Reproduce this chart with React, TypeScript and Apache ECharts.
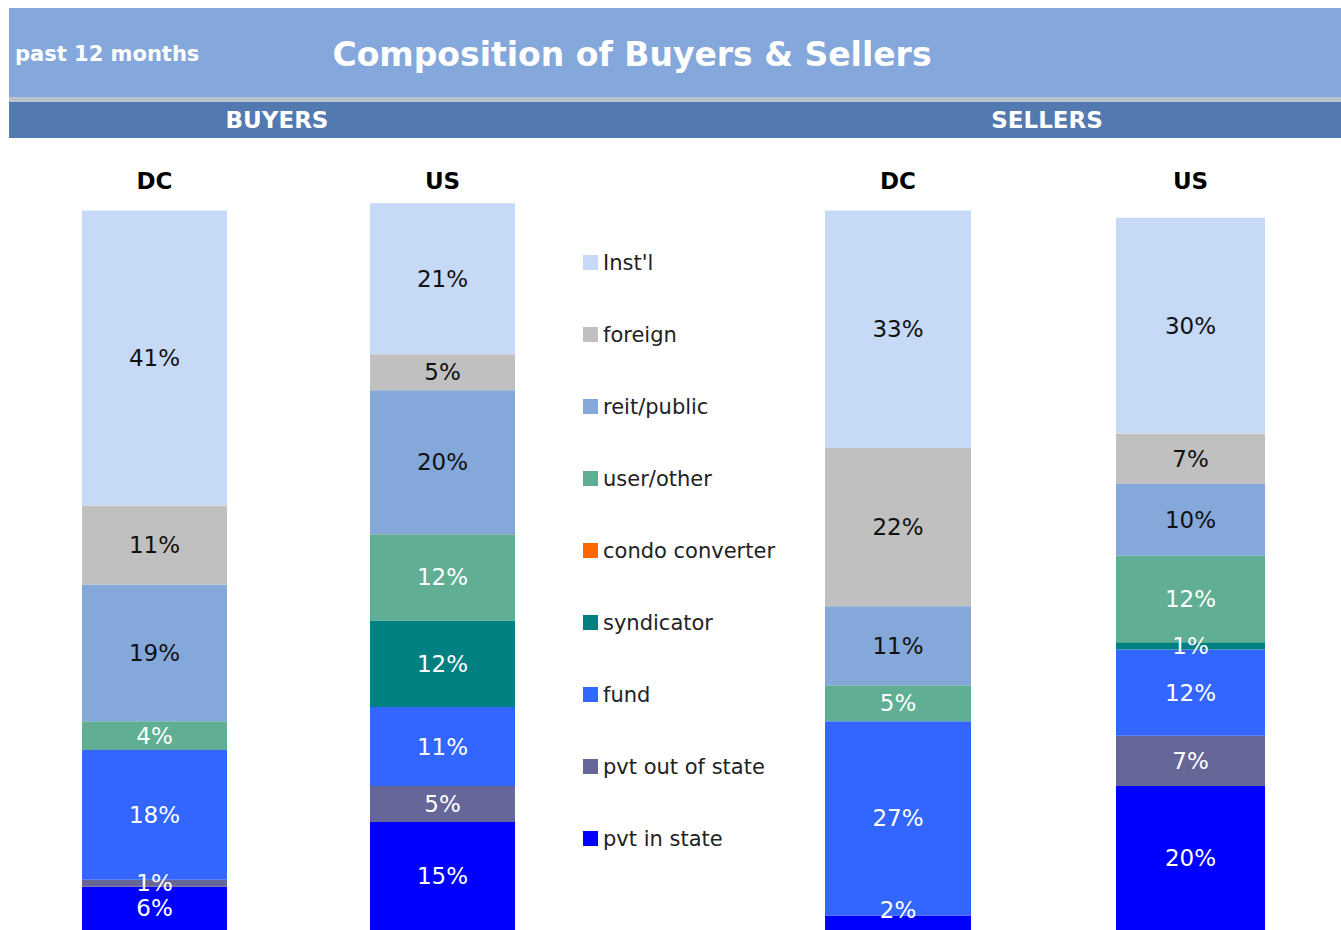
import React, { useEffect, useRef } from "react";
import * as echarts from "echarts";

// ---- data ----
const segments = [
  "Inst'l",
  "foreign",
  "reit/public",
  "user/other",
  "condo converter",
  "syndicator",
  "fund",
  "pvt out of state",
  "pvt in state",
];
const segmentColors = [
  "#C6DAF8",
  "#C0C0C0",
  "#84A8DA",
  "#60AE94",
  "#FF6600",
  "#008080",
  "#3366FF",
  "#666699",
  "#0000FF",
];
const darkLabel = [true, true, true, false, false, false, false, false, false];

const panelNames = ["DC", "US", "DC", "US"];
const buyersDC = [41, 11, 19, 4, 0, 0, 18, 1, 6];
const buyersUS = [21, 5, 20, 12, 0, 12, 11, 5, 15];
const sellersDC = [33, 22, 11, 5, 0, 0, 27, 0, 2];
const sellersUS = [30, 7, 10, 12, 0, 1, 12, 7, 20];
const panelValues = [buyersDC, buyersUS, sellersDC, sellersUS];

const titleText = "Composition of Buyers & Sellers";
const periodText = "past 12 months";
const groupTitles = ["BUYERS", "SELLERS"];

// ---- layout ----
const FONT = "DejaVu Sans";
const gridLefts = [82, 370, 825, 1116];
const gridWidths = [145, 145, 146, 149];
const GRID_TOP = 138.5;
const GRID_H = 792;
const Y_MAX = 110;
const PX_PER = GRID_H / Y_MAX;

function buildOption() {
  const grid = gridLefts.map((l, i) => ({
    left: l,
    top: GRID_TOP,
    width: gridWidths[i],
    height: GRID_H,
  }));
  const xAxis = panelNames.map((n, i) => ({
    gridIndex: i,
    type: "category",
    data: [n],
    position: "top",
    offset: -58,
    axisLine: { show: false },
    axisTick: { show: false },
    splitLine: { show: false },
    axisLabel: {
      fontSize: 23,
      fontWeight: "bold",
      color: "#000",
      fontFamily: FONT,
      margin: 4,
    },
  }));
  const yAxis = panelNames.map((_, i) => ({
    gridIndex: i,
    type: "value",
    min: 0,
    max: Y_MAX,
    show: false,
  }));
  const series: any[] = [];
  panelValues.forEach((vals, g) => {
    let cum = 0;
    for (let s = segments.length - 1; s >= 0; s--) {
      const v = vals[s];
      const midPx = (cum + v / 2) * PX_PER;
      cum += v;
      const shift = midPx < 12 ? midPx - 20 : 0;
      series.push({
        type: "bar",
        name: segments[s],
        xAxisIndex: g,
        yAxisIndex: g,
        stack: "p" + g,
        barWidth: "100%",
        itemStyle: { color: segmentColors[s] },
        label: {
          show: v > 0,
          position: "inside",
          offset: [0, shift],
          formatter: "{c}%",
          fontSize: 23,
          fontFamily: FONT,
          color: darkLabel[s] ? "#111" : "#fff",
        },
        data: [v],
      });
    }
  });

  const graphic: any[] = [
    { type: "rect", shape: { x: 9, y: 8, width: 1332, height: 89 }, style: { fill: "#84A8DB" } },
    { type: "rect", shape: { x: 9, y: 97, width: 1332, height: 5 }, style: { fill: "#BAC3CD" } },
    { type: "rect", shape: { x: 9, y: 102, width: 1332, height: 36 }, style: { fill: "#5279B0" } },
    {
      type: "text",
      x: 15,
      y: 54,
      style: {
        text: periodText,
        fill: "#fff",
        font: `bold 21px "${FONT}"`,
        textAlign: "left",
        textVerticalAlign: "middle",
      },
    },
    {
      type: "text",
      x: 632,
      y: 54,
      style: {
        text: titleText,
        fill: "#fff",
        font: `bold 33px "${FONT}"`,
        textAlign: "center",
        textVerticalAlign: "middle",
      },
    },
    {
      type: "text",
      x: 277,
      y: 120,
      style: {
        text: groupTitles[0],
        fill: "#fff",
        font: `bold 23px "${FONT}"`,
        textAlign: "center",
        textVerticalAlign: "middle",
      },
    },
    {
      type: "text",
      x: 1047,
      y: 120,
      style: {
        text: groupTitles[1],
        fill: "#fff",
        font: `bold 23px "${FONT}"`,
        textAlign: "center",
        textVerticalAlign: "middle",
      },
    },
  ];

  return {
    animation: false,
    backgroundColor: "#fff",
    grid,
    xAxis,
    yAxis,
    series,
    legend: {
      orient: "vertical",
      left: 578,
      top: 247,
      itemWidth: 15,
      itemHeight: 15,
      itemGap: 51,
      icon: "rect",
      selectedMode: false,
      data: segments,
      textStyle: { fontSize: 21, color: "#222", fontFamily: FONT },
    },
    graphic,
  };
}

export default function App() {
  const ref = useRef<HTMLDivElement>(null);
  useEffect(() => {
    if (!ref.current) return;
    const chart = echarts.init(ref.current, null, { renderer: "svg" });
    chart.setOption(buildOption() as any);
    return () => chart.dispose();
  }, []);
  return (
    <div
      ref={ref}
      style={{ position: "absolute", left: 0, top: 0, width: 1341, height: 930 }}
    />
  );
}
